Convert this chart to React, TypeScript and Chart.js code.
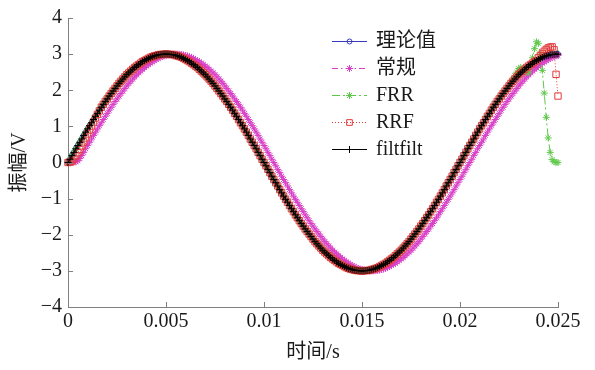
import React, { useEffect, useRef } from 'react';
import { Chart, registerables } from 'chart.js';

Chart.register(...registerables);

// sample times (s)
const timeS = [
  0.0000, 0.0001, 0.0002, 0.0003, 0.0004, 0.0005, 0.0006, 0.0007, 0.0008, 0.0009,
  0.0010, 0.0011, 0.0012, 0.0013, 0.0014, 0.0015, 0.0016, 0.0017, 0.0018, 0.0019,
  0.0020, 0.0021, 0.0022, 0.0023, 0.0024, 0.0025, 0.0026, 0.0027, 0.0028, 0.0029,
  0.0030, 0.0031, 0.0032, 0.0033, 0.0034, 0.0035, 0.0036, 0.0037, 0.0038, 0.0039,
  0.0040, 0.0041, 0.0042, 0.0043, 0.0044, 0.0045, 0.0046, 0.0047, 0.0048, 0.0049,
  0.0050, 0.0051, 0.0052, 0.0053, 0.0054, 0.0055, 0.0056, 0.0057, 0.0058, 0.0059,
  0.0060, 0.0061, 0.0062, 0.0063, 0.0064, 0.0065, 0.0066, 0.0067, 0.0068, 0.0069,
  0.0070, 0.0071, 0.0072, 0.0073, 0.0074, 0.0075, 0.0076, 0.0077, 0.0078, 0.0079,
  0.0080, 0.0081, 0.0082, 0.0083, 0.0084, 0.0085, 0.0086, 0.0087, 0.0088, 0.0089,
  0.0090, 0.0091, 0.0092, 0.0093, 0.0094, 0.0095, 0.0096, 0.0097, 0.0098, 0.0099,
  0.0100, 0.0101, 0.0102, 0.0103, 0.0104, 0.0105, 0.0106, 0.0107, 0.0108, 0.0109,
  0.0110, 0.0111, 0.0112, 0.0113, 0.0114, 0.0115, 0.0116, 0.0117, 0.0118, 0.0119,
  0.0120, 0.0121, 0.0122, 0.0123, 0.0124, 0.0125, 0.0126, 0.0127, 0.0128, 0.0129,
  0.0130, 0.0131, 0.0132, 0.0133, 0.0134, 0.0135, 0.0136, 0.0137, 0.0138, 0.0139,
  0.0140, 0.0141, 0.0142, 0.0143, 0.0144, 0.0145, 0.0146, 0.0147, 0.0148, 0.0149,
  0.0150, 0.0151, 0.0152, 0.0153, 0.0154, 0.0155, 0.0156, 0.0157, 0.0158, 0.0159,
  0.0160, 0.0161, 0.0162, 0.0163, 0.0164, 0.0165, 0.0166, 0.0167, 0.0168, 0.0169,
  0.0170, 0.0171, 0.0172, 0.0173, 0.0174, 0.0175, 0.0176, 0.0177, 0.0178, 0.0179,
  0.0180, 0.0181, 0.0182, 0.0183, 0.0184, 0.0185, 0.0186, 0.0187, 0.0188, 0.0189,
  0.0190, 0.0191, 0.0192, 0.0193, 0.0194, 0.0195, 0.0196, 0.0197, 0.0198, 0.0199,
  0.0200, 0.0201, 0.0202, 0.0203, 0.0204, 0.0205, 0.0206, 0.0207, 0.0208, 0.0209,
  0.0210, 0.0211, 0.0212, 0.0213, 0.0214, 0.0215, 0.0216, 0.0217, 0.0218, 0.0219,
  0.0220, 0.0221, 0.0222, 0.0223, 0.0224, 0.0225, 0.0226, 0.0227, 0.0228, 0.0229,
  0.0230, 0.0231, 0.0232, 0.0233, 0.0234, 0.0235, 0.0236, 0.0237, 0.0238, 0.0239,
  0.0240, 0.0241, 0.0242, 0.0243, 0.0244, 0.0245, 0.0246, 0.0247, 0.0248, 0.0249,
  0.0250,
];

// 理论值
const theoryValues = [
  0, 0.09, 0.19, 0.28, 0.38, 0.47, 0.56, 0.65, 0.75, 0.84,
  0.93, 1.02, 1.10, 1.19, 1.28, 1.36, 1.45, 1.53, 1.61, 1.69,
  1.76, 1.84, 1.91, 1.98, 2.05, 2.12, 2.19, 2.25, 2.31, 2.37,
  2.43, 2.48, 2.53, 2.58, 2.63, 2.67, 2.71, 2.75, 2.79, 2.82,
  2.85, 2.88, 2.91, 2.93, 2.95, 2.96, 2.98, 2.99, 2.99, 3.00,
  3.00, 3.00, 2.99, 2.99, 2.98, 2.96, 2.95, 2.93, 2.91, 2.88,
  2.85, 2.82, 2.79, 2.75, 2.71, 2.67, 2.63, 2.58, 2.53, 2.48,
  2.43, 2.37, 2.31, 2.25, 2.19, 2.12, 2.05, 1.98, 1.91, 1.84,
  1.76, 1.69, 1.61, 1.53, 1.45, 1.36, 1.28, 1.19, 1.10, 1.02,
  0.93, 0.84, 0.75, 0.65, 0.56, 0.47, 0.38, 0.28, 0.19, 0.09,
  0, -0.09, -0.19, -0.28, -0.38, -0.47, -0.56, -0.65, -0.75, -0.84,
  -0.93, -1.02, -1.10, -1.19, -1.28, -1.36, -1.45, -1.53, -1.61, -1.69,
  -1.76, -1.84, -1.91, -1.98, -2.05, -2.12, -2.19, -2.25, -2.31, -2.37,
  -2.43, -2.48, -2.53, -2.58, -2.63, -2.67, -2.71, -2.75, -2.79, -2.82,
  -2.85, -2.88, -2.91, -2.93, -2.95, -2.96, -2.98, -2.99, -2.99, -3.00,
  -3.00, -3.00, -2.99, -2.99, -2.98, -2.96, -2.95, -2.93, -2.91, -2.88,
  -2.85, -2.82, -2.79, -2.75, -2.71, -2.67, -2.63, -2.58, -2.53, -2.48,
  -2.43, -2.37, -2.31, -2.25, -2.19, -2.12, -2.05, -1.98, -1.91, -1.84,
  -1.76, -1.69, -1.61, -1.53, -1.45, -1.36, -1.28, -1.19, -1.10, -1.02,
  -0.93, -0.84, -0.75, -0.65, -0.56, -0.47, -0.38, -0.28, -0.19, -0.09,
  0, 0.09, 0.19, 0.28, 0.38, 0.47, 0.56, 0.65, 0.75, 0.84,
  0.93, 1.02, 1.10, 1.19, 1.28, 1.36, 1.45, 1.53, 1.61, 1.69,
  1.76, 1.84, 1.91, 1.98, 2.05, 2.12, 2.19, 2.25, 2.31, 2.37,
  2.43, 2.48, 2.53, 2.58, 2.63, 2.67, 2.71, 2.75, 2.79, 2.82,
  2.85, 2.88, 2.91, 2.93, 2.95, 2.96, 2.98, 2.99, 2.99, 3.00,
  3.00,
];

// 常规
const conventionalValues = [
  0, 0, 0, 0.01, 0.02, 0.05, 0.11, 0.19, 0.28, 0.38,
  0.47, 0.56, 0.65, 0.75, 0.84, 0.93, 1.02, 1.10, 1.19, 1.28,
  1.36, 1.45, 1.53, 1.61, 1.69, 1.76, 1.84, 1.91, 1.98, 2.05,
  2.12, 2.19, 2.25, 2.31, 2.37, 2.43, 2.48, 2.53, 2.58, 2.63,
  2.67, 2.71, 2.75, 2.79, 2.82, 2.85, 2.88, 2.91, 2.93, 2.95,
  2.96, 2.98, 2.99, 2.99, 3.00, 3.00, 3.00, 2.99, 2.99, 2.98,
  2.96, 2.95, 2.93, 2.91, 2.88, 2.85, 2.82, 2.79, 2.75, 2.71,
  2.67, 2.63, 2.58, 2.53, 2.48, 2.43, 2.37, 2.31, 2.25, 2.19,
  2.12, 2.05, 1.98, 1.91, 1.84, 1.76, 1.69, 1.61, 1.53, 1.45,
  1.36, 1.28, 1.19, 1.10, 1.02, 0.93, 0.84, 0.75, 0.65, 0.56,
  0.47, 0.38, 0.28, 0.19, 0.09, 0, -0.09, -0.19, -0.28, -0.38,
  -0.47, -0.56, -0.65, -0.75, -0.84, -0.93, -1.02, -1.10, -1.19, -1.28,
  -1.36, -1.45, -1.53, -1.61, -1.69, -1.76, -1.84, -1.91, -1.98, -2.05,
  -2.12, -2.19, -2.25, -2.31, -2.37, -2.43, -2.48, -2.53, -2.58, -2.63,
  -2.67, -2.71, -2.75, -2.79, -2.82, -2.85, -2.88, -2.91, -2.93, -2.95,
  -2.96, -2.98, -2.99, -2.99, -3.00, -3.00, -3.00, -2.99, -2.99, -2.98,
  -2.96, -2.95, -2.93, -2.91, -2.88, -2.85, -2.82, -2.79, -2.75, -2.71,
  -2.67, -2.63, -2.58, -2.53, -2.48, -2.43, -2.37, -2.31, -2.25, -2.19,
  -2.12, -2.05, -1.98, -1.91, -1.84, -1.76, -1.69, -1.61, -1.53, -1.45,
  -1.36, -1.28, -1.19, -1.10, -1.02, -0.93, -0.84, -0.75, -0.65, -0.56,
  -0.47, -0.38, -0.28, -0.19, -0.09, 0, 0.09, 0.19, 0.28, 0.38,
  0.47, 0.56, 0.65, 0.75, 0.84, 0.93, 1.02, 1.10, 1.19, 1.28,
  1.36, 1.45, 1.53, 1.61, 1.69, 1.76, 1.84, 1.91, 1.98, 2.05,
  2.12, 2.19, 2.25, 2.31, 2.37, 2.43, 2.48, 2.53, 2.58, 2.63,
  2.67, 2.71, 2.75, 2.79, 2.82, 2.85, 2.88, 2.91, 2.93, 2.95,
  2.96,
];

// FRR
const frrValues = [
  0, 0.09, 0.19, 0.28, 0.38, 0.47, 0.56, 0.65, 0.75, 0.84,
  0.93, 1.02, 1.10, 1.19, 1.28, 1.36, 1.45, 1.53, 1.61, 1.69,
  1.76, 1.84, 1.91, 1.98, 2.05, 2.12, 2.19, 2.25, 2.31, 2.37,
  2.43, 2.48, 2.53, 2.58, 2.63, 2.67, 2.71, 2.75, 2.79, 2.82,
  2.85, 2.88, 2.91, 2.93, 2.95, 2.96, 2.98, 2.99, 2.99, 3.00,
  3.00, 3.00, 2.99, 2.99, 2.98, 2.96, 2.95, 2.93, 2.91, 2.88,
  2.85, 2.82, 2.79, 2.75, 2.71, 2.67, 2.63, 2.58, 2.53, 2.48,
  2.43, 2.37, 2.31, 2.25, 2.19, 2.12, 2.05, 1.98, 1.91, 1.84,
  1.76, 1.69, 1.61, 1.53, 1.45, 1.36, 1.28, 1.19, 1.10, 1.02,
  0.93, 0.84, 0.75, 0.65, 0.56, 0.47, 0.38, 0.28, 0.19, 0.09,
  0, -0.09, -0.19, -0.28, -0.38, -0.47, -0.56, -0.65, -0.75, -0.84,
  -0.93, -1.02, -1.10, -1.19, -1.28, -1.36, -1.45, -1.53, -1.61, -1.69,
  -1.76, -1.84, -1.91, -1.98, -2.05, -2.12, -2.19, -2.25, -2.31, -2.37,
  -2.43, -2.48, -2.53, -2.58, -2.63, -2.67, -2.71, -2.75, -2.79, -2.82,
  -2.85, -2.88, -2.91, -2.93, -2.95, -2.96, -2.98, -2.99, -2.99, -3.00,
  -3.00, -3.00, -2.99, -2.99, -2.98, -2.96, -2.95, -2.93, -2.91, -2.88,
  -2.85, -2.82, -2.79, -2.75, -2.71, -2.67, -2.63, -2.58, -2.53, -2.48,
  -2.43, -2.37, -2.31, -2.25, -2.19, -2.12, -2.05, -1.98, -1.91, -1.84,
  -1.76, -1.69, -1.61, -1.53, -1.45, -1.36, -1.28, -1.19, -1.10, -1.02,
  -0.93, -0.84, -0.75, -0.65, -0.56, -0.47, -0.38, -0.28, -0.19, -0.09,
  0, 0.09, 0.19, 0.28, 0.38, 0.47, 0.56, 0.65, 0.75, 0.84,
  0.93, 1.02, 1.10, 1.19, 1.28, 1.36, 1.45, 1.53, 1.61, 1.69,
  1.76, 1.84, 1.91, 1.98, 2.05, 2.12, 2.22, 2.30, 2.40, 2.50,
  2.60, 2.63, 2.60, 2.55, 2.50, 2.50, 2.65, 2.90, 3.15, 3.34,
  3.30, 3.00, 2.55, 1.92, 1.25, 0.68, 0.28, 0.08, 0.02, 0,
  0,
];

// RRF
const rrfValues = [
  0, 0.01, 0.04, 0.10, 0.18, 0.27, 0.36, 0.46, 0.57, 0.68,
  0.79, 0.90, 1.01, 1.12, 1.23, 1.33, 1.43, 1.53, 1.61, 1.69,
  1.76, 1.84, 1.91, 1.98, 2.05, 2.12, 2.19, 2.25, 2.31, 2.37,
  2.43, 2.48, 2.53, 2.58, 2.63, 2.67, 2.71, 2.75, 2.79, 2.82,
  2.85, 2.88, 2.91, 2.93, 2.95, 2.96, 2.98, 2.99, 2.99, 3.00,
  3.00, 3.00, 2.99, 2.99, 2.98, 2.96, 2.95, 2.93, 2.91, 2.88,
  2.85, 2.82, 2.79, 2.75, 2.71, 2.67, 2.63, 2.58, 2.53, 2.48,
  2.43, 2.37, 2.31, 2.25, 2.19, 2.12, 2.05, 1.98, 1.91, 1.84,
  1.76, 1.69, 1.61, 1.53, 1.45, 1.36, 1.28, 1.19, 1.10, 1.02,
  0.93, 0.84, 0.75, 0.65, 0.56, 0.47, 0.38, 0.28, 0.19, 0.09,
  0, -0.09, -0.19, -0.28, -0.38, -0.47, -0.56, -0.65, -0.75, -0.84,
  -0.93, -1.02, -1.10, -1.19, -1.28, -1.36, -1.45, -1.53, -1.61, -1.69,
  -1.76, -1.84, -1.91, -1.98, -2.05, -2.12, -2.19, -2.25, -2.31, -2.37,
  -2.43, -2.48, -2.53, -2.58, -2.63, -2.67, -2.71, -2.75, -2.79, -2.82,
  -2.85, -2.88, -2.91, -2.93, -2.95, -2.96, -2.98, -2.99, -2.99, -3.00,
  -3.00, -3.00, -2.99, -2.99, -2.98, -2.96, -2.95, -2.93, -2.91, -2.88,
  -2.85, -2.82, -2.79, -2.75, -2.71, -2.67, -2.63, -2.58, -2.53, -2.48,
  -2.43, -2.37, -2.31, -2.25, -2.19, -2.12, -2.05, -1.98, -1.91, -1.84,
  -1.76, -1.69, -1.61, -1.53, -1.45, -1.36, -1.28, -1.19, -1.10, -1.02,
  -0.93, -0.84, -0.75, -0.65, -0.56, -0.47, -0.38, -0.28, -0.19, -0.09,
  0, 0.09, 0.19, 0.28, 0.38, 0.47, 0.56, 0.65, 0.75, 0.84,
  0.93, 1.02, 1.10, 1.19, 1.28, 1.36, 1.45, 1.53, 1.61, 1.69,
  1.76, 1.84, 1.91, 1.98, 2.05, 2.12, 2.19, 2.25, 2.31, 2.37,
  2.43, 2.48, 2.53, 2.58, 2.63, 2.67, 2.71, 2.75, 2.79, 2.82,
  2.90, 2.96, 3.02, 3.08, 3.13, 3.17, 3.19, 3.20, 3.12, 2.44,
  1.84,
];

// filtfilt
const filtfiltValues = [
  0, 0.09, 0.19, 0.28, 0.38, 0.47, 0.56, 0.65, 0.75, 0.84,
  0.93, 1.02, 1.10, 1.19, 1.28, 1.36, 1.45, 1.53, 1.61, 1.69,
  1.76, 1.84, 1.91, 1.98, 2.05, 2.12, 2.19, 2.25, 2.31, 2.37,
  2.43, 2.48, 2.53, 2.58, 2.63, 2.67, 2.71, 2.75, 2.79, 2.82,
  2.85, 2.88, 2.91, 2.93, 2.95, 2.96, 2.98, 2.99, 2.99, 3.00,
  3.00, 3.00, 2.99, 2.99, 2.98, 2.96, 2.95, 2.93, 2.91, 2.88,
  2.85, 2.82, 2.79, 2.75, 2.71, 2.67, 2.63, 2.58, 2.53, 2.48,
  2.43, 2.37, 2.31, 2.25, 2.19, 2.12, 2.05, 1.98, 1.91, 1.84,
  1.76, 1.69, 1.61, 1.53, 1.45, 1.36, 1.28, 1.19, 1.10, 1.02,
  0.93, 0.84, 0.75, 0.65, 0.56, 0.47, 0.38, 0.28, 0.19, 0.09,
  0, -0.09, -0.19, -0.28, -0.38, -0.47, -0.56, -0.65, -0.75, -0.84,
  -0.93, -1.02, -1.10, -1.19, -1.28, -1.36, -1.45, -1.53, -1.61, -1.69,
  -1.76, -1.84, -1.91, -1.98, -2.05, -2.12, -2.19, -2.25, -2.31, -2.37,
  -2.43, -2.48, -2.53, -2.58, -2.63, -2.67, -2.71, -2.75, -2.79, -2.82,
  -2.85, -2.88, -2.91, -2.93, -2.95, -2.96, -2.98, -2.99, -2.99, -3.00,
  -3.00, -3.00, -2.99, -2.99, -2.98, -2.96, -2.95, -2.93, -2.91, -2.88,
  -2.85, -2.82, -2.79, -2.75, -2.71, -2.67, -2.63, -2.58, -2.53, -2.48,
  -2.43, -2.37, -2.31, -2.25, -2.19, -2.12, -2.05, -1.98, -1.91, -1.84,
  -1.76, -1.69, -1.61, -1.53, -1.45, -1.36, -1.28, -1.19, -1.10, -1.02,
  -0.93, -0.84, -0.75, -0.65, -0.56, -0.47, -0.38, -0.28, -0.19, -0.09,
  0, 0.09, 0.19, 0.28, 0.38, 0.47, 0.56, 0.65, 0.75, 0.84,
  0.93, 1.02, 1.10, 1.19, 1.28, 1.36, 1.45, 1.53, 1.61, 1.69,
  1.76, 1.84, 1.91, 1.98, 2.05, 2.12, 2.19, 2.25, 2.31, 2.37,
  2.43, 2.48, 2.53, 2.58, 2.63, 2.67, 2.71, 2.75, 2.79, 2.82,
  2.85, 2.88, 2.91, 2.93, 2.95, 2.96, 2.98, 2.99, 2.99, 3.00,
  3.00,
];

const seriesNames = ['理论值', '常规', 'FRR', 'RRF', 'filtfilt'];
const xTickValues = [0, 0.005, 0.01, 0.015, 0.02, 0.025];
const xTickLabels = ['0', '0.005', '0.01', '0.015', '0.02', '0.025'];
const yTickValues = [-4, -3, -2, -1, 0, 1, 2, 3, 4];
const yTickLabels = ['\u22124', '\u22123', '\u22122', '\u22121', '0', '1', '2', '3', '4'];
const xTitle = '时间/s';
const yTitle = '振幅/V';

const FONT = '"Liberation Serif", "Noto Sans CJK SC", serif';
const AXIS_COLOR = '#808080';
const TEXT_COLOR = '#1a1a1a';

type Style = {
  color: string;
  marker: 'circle' | 'star' | 'rect' | 'cross';
  radius: number;
  dash: number[];
};

const styles: Style[] = [
  { color: '#3a3ac0', marker: 'circle', radius: 2.5, dash: [] },
  { color: '#d83ec6', marker: 'star', radius: 3.5, dash: [6, 3, 1.5, 3] },
  { color: '#5ec84a', marker: 'star', radius: 3.5, dash: [8, 3, 2, 3] },
  { color: '#e23a3a', marker: 'rect', radius: 4.5, dash: [1, 2] },
  { color: '#000000', marker: 'cross', radius: 3.5, dash: [] },
];

const seriesValues = [theoryValues, conventionalValues, frrValues, rrfValues, filtfiltValues];

function drawMarker(ctx: CanvasRenderingContext2D, s: Style, x: number, y: number) {
  ctx.save();
  ctx.setLineDash([]);
  ctx.strokeStyle = s.color;
  ctx.lineWidth = 1;
  const r = s.marker === 'rect' ? 4 : s.radius;
  ctx.beginPath();
  if (s.marker === 'circle') {
    ctx.arc(x, y, r, 0, Math.PI * 2);
  } else if (s.marker === 'rect') {
    const h = r * Math.SQRT1_2;
    ctx.rect(x - h, y - h, 2 * h, 2 * h);
  } else if (s.marker === 'cross') {
    ctx.moveTo(x, y - r);
    ctx.lineTo(x, y + r);
  } else {
    const d = r * Math.SQRT1_2;
    ctx.moveTo(x - r, y);
    ctx.lineTo(x + r, y);
    ctx.moveTo(x, y - r);
    ctx.lineTo(x, y + r);
    ctx.moveTo(x - d, y - d);
    ctx.lineTo(x + d, y + d);
    ctx.moveTo(x - d, y + d);
    ctx.lineTo(x + d, y - d);
  }
  ctx.stroke();
  ctx.restore();
}

const decorPlugin = {
  id: 'decor',
  afterDraw(chart: any) {
    const ctx: CanvasRenderingContext2D = chart.ctx;
    const area = chart.chartArea;
    const xs = chart.scales.x;
    const ys = chart.scales.y;
    ctx.save();
    // inward ticks
    ctx.strokeStyle = AXIS_COLOR;
    ctx.lineWidth = 1;
    ctx.beginPath();
    xTickValues.forEach((v) => {
      const px = Math.round(xs.getPixelForValue(v)) + 0.5;
      ctx.moveTo(px, area.bottom);
      ctx.lineTo(px, area.bottom - 5);
    });
    yTickValues.forEach((v) => {
      const py = Math.round(ys.getPixelForValue(v)) + 0.5;
      ctx.moveTo(area.left, py);
      ctx.lineTo(area.left + 5, py);
    });
    ctx.stroke();

    // axis titles
    ctx.fillStyle = TEXT_COLOR;
    ctx.font = `20px ${FONT}`;
    ctx.textAlign = 'center';
    ctx.textBaseline = 'middle';
    ctx.fillText(xTitle, (area.left + area.right) / 2, 353);
    ctx.save();
    ctx.translate(20, (area.top + area.bottom) / 2);
    ctx.rotate(-Math.PI / 2);
    ctx.fillText(yTitle, 0, 0);
    ctx.restore();

    // legend
    const lx0 = 332;
    const lx1 = 367;
    const ly0 = 41;
    const step = 27;
    seriesNames.forEach((name, i) => {
      const s = styles[i];
      const y = ly0 + i * step;
      ctx.save();
      ctx.strokeStyle = s.color;
      ctx.lineWidth = 1;
      ctx.setLineDash(s.dash);
      ctx.beginPath();
      ctx.moveTo(lx0, y + 0.5);
      ctx.lineTo(lx1, y + 0.5);
      ctx.stroke();
      ctx.restore();
      drawMarker(ctx, s, (lx0 + lx1) / 2, y + 0.5);
      ctx.fillStyle = TEXT_COLOR;
      ctx.font = `20px ${FONT}`;
      ctx.textAlign = 'left';
      ctx.textBaseline = 'middle';
      ctx.fillText(name, 376, y + 1);
    });
    ctx.restore();
  },
};

export default function App() {
  const ref = useRef<HTMLCanvasElement | null>(null);
  useEffect(() => {
    document.body.style.margin = '0';
    const canvas = ref.current;
    if (!canvas) return;
    const order = [5, 4, 3, 2, 1];
    const datasets = seriesNames.map((name, i) => {
      const s = styles[i];
      return {
        label: name,
        data: timeS.map((t, k) => ({ x: t, y: seriesValues[i][k] })),
        borderColor: s.color,
        backgroundColor: 'transparent',
        borderWidth: 1,
        borderDash: s.dash,
        pointStyle: s.marker,
        pointRadius: s.radius,
        pointBorderWidth: 1,
        pointBorderColor: s.color,
        pointBackgroundColor: 'transparent',
        pointHoverRadius: s.radius,
        tension: 0,
        fill: false,
        clip: false as any,
        order: order[i],
      };
    });
    const chart = new Chart(canvas, {
      type: 'line',
      data: { datasets },
      options: {
        animation: false,
        responsive: false,
        devicePixelRatio: 1,
        layout: { padding: { left: 0, right: 37, top: 15, bottom: 0 } },
        plugins: {
          legend: { display: false },
          tooltip: { enabled: false },
        },
        scales: {
          x: {
            type: 'linear',
            min: 0,
            max: 0.025,
            afterBuildTicks: (scale: any) => {
              scale.ticks = xTickValues.map((v) => ({ value: v }));
            },
            afterFit: (scale: any) => {
              scale.height = 63;
            },
            grid: { display: false, drawTicks: false },
            border: { display: true, color: AXIS_COLOR, width: 1 },
            ticks: {
              padding: 3,
              color: TEXT_COLOR,
              font: { family: FONT, size: 20 },
              maxRotation: 0,
              autoSkip: false,
              callback: (v: any) => {
                const idx = xTickValues.findIndex((t) => Math.abs(t - Number(v)) < 1e-9);
                return idx >= 0 ? xTickLabels[idx] : '';
              },
            },
          },
          y: {
            type: 'linear',
            min: -4,
            max: 4,
            afterBuildTicks: (scale: any) => {
              scale.ticks = yTickValues.map((v) => ({ value: v }));
            },
            afterFit: (scale: any) => {
              scale.width = 68;
            },
            grid: { display: false, drawTicks: false },
            border: { display: true, color: AXIS_COLOR, width: 1 },
            ticks: {
              padding: 6,
              color: TEXT_COLOR,
              font: { family: FONT, size: 20 },
              autoSkip: false,
              callback: (v: any) => {
                const idx = yTickValues.findIndex((t) => Math.abs(t - Number(v)) < 1e-9);
                return idx >= 0 ? yTickLabels[idx] : '';
              },
            },
          },
        },
      },
      plugins: [decorPlugin],
    });
    return () => chart.destroy();
  }, []);
  return (
    <div style={{ width: 595, height: 370, background: '#fff' }}>
      <canvas ref={ref} width={595} height={370} style={{ display: 'block' }} />
    </div>
  );
}
